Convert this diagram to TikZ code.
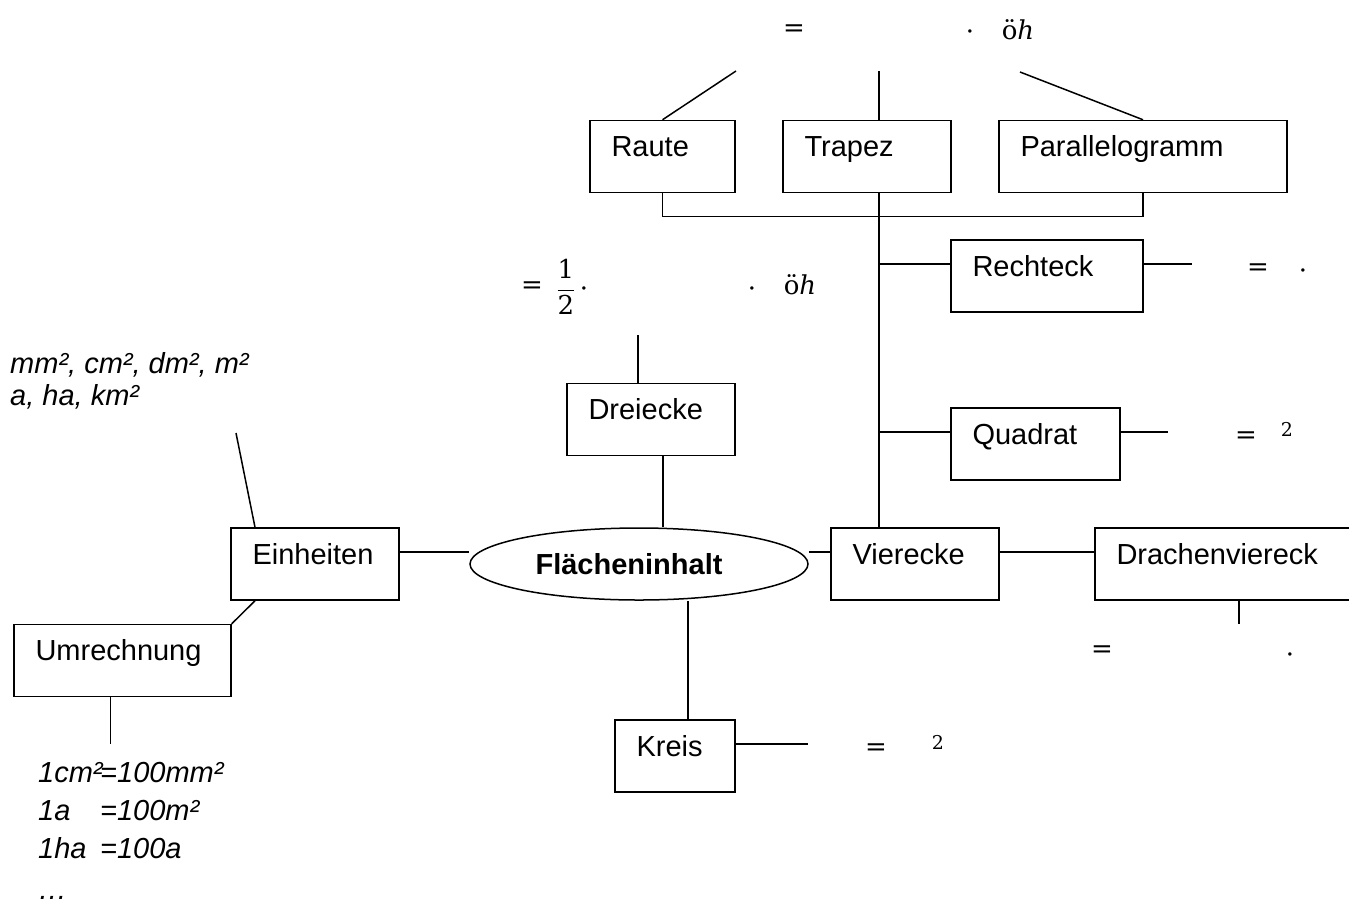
\RequirePackage{fix-cm}
\documentclass[tikz,border=0pt]{standalone}
\usepackage{fontspec}
\setmainfont{Liberation Sans}
\newfontfamily\mfont{DejaVu Serif}
\usetikzlibrary{shapes.geometric}
\newcommand\myfs{\fontsize{29}{34}\selectfont}
\newcommand\mfs{\mfont\fontsize{26}{30}\selectfont}
\newcommand\supfs{\mfont\fontsize{19}{22}\selectfont}
\begin{document}
\begin{tikzpicture}[x=1pt,y=-1pt,
  every node/.style={font=\myfs},
  box/.style={draw, line width=1.5pt, rectangle, inner xsep=21.5pt, inner ysep=0pt, minimum height=72pt, align=left, text height=20pt, text depth=20pt},
  ell/.style={draw, line width=1.5pt, ellipse, inner sep=0pt, minimum width=338pt, minimum height=72pt, font=\myfs\bfseries},
  conn/.style={line width=1.5pt},
  mth/.style={inner sep=0pt, font=\mfs},
  sup/.style={inner sep=0pt, font=\supfs},
  lbl/.style={inner sep=0pt, anchor=base west, font=\myfs\itshape}
]
\useasboundingbox (0,0) rectangle (1349,898);

% boxes
\node[box, text width=102pt] (raute) at (662.5,156.5) {Raute};
\node[box, text width=125pt] (trapez) at (867,156.5) {Trapez};
\node[box, text width=245pt] (pgram) at (1143,156.5) {Parallelogramm};
\node[box, text width=149pt] (rechteck) at (1047,276) {Rechteck};
\node[box, text width=126pt] (quadrat) at (1035.5,444) {Quadrat};
\node[box, text width=125pt] (dreiecke) at (651,419.5) {Dreiecke};
\node[box, text width=125pt] (vierecke) at (915,564) {Vierecke};
\node[box, text width=227pt] (drachen) at (1230,564) {Drachenviereck};
\node[box, text width=125pt] (einheiten) at (315,564) {Einheiten};
\node[box, text width=174pt] (umrechnung) at (122.5,660.5) {Umrechnung};
\node[box, text width=77pt] (kreis) at (675,756) {Kreis};
\node[ell] (fi) at (639,564) {\hspace*{-20pt}Flächeninhalt};

% free ends
\coordinate (trunk) at (879,0);
\coordinate (rt) at (736,71);
\coordinate (tt) at (879,71);
\coordinate (pt) at (1020,72);
\coordinate (et) at (236,433);

% connectors
\draw[conn] (raute.north) -- (rt);
\draw[conn] (trapez.north -| trunk) -- (tt);
\draw[conn] (pgram.north) -- (pt);
\draw[conn] (raute.south) -- ++(0,23) -| (pgram.south);
\draw[conn] (trapez.south -| trunk) -- (vierecke.north -| trunk);

\coordinate (rw) at ([yshift=12pt]rechteck.west);
\coordinate (re) at ([yshift=12pt]rechteck.east);
\draw[conn] (rw -| trunk) -- (rw);
\draw[conn] (re) -- ++(48,0);

\coordinate (qw) at ([yshift=12pt]quadrat.west);
\coordinate (qe) at ([yshift=12pt]quadrat.east);
\draw[conn] (qw -| trunk) -- (qw);
\draw[conn] (qe) -- ++(47,0);

\coordinate (vw) at ([yshift=12pt]vierecke.west);
\coordinate (dw) at ([yshift=12pt]drachen.west);
\draw[conn] (vw -| fi.east) -- (vw);
\draw[conn] (dw -| vierecke.east) -- (dw);
\draw[conn] ([xshift=9pt]drachen.south) -- ++(0,23);

\draw[conn] ([xshift=-13pt]dreiecke.north) -- ++(0,-48);
\coordinate (db) at ([xshift=12pt]dreiecke.south);
\draw[conn] (db) -- (db |- fi.north);

\coordinate (kn) at ([xshift=13pt]kreis.north);
\draw[conn] (kn) -- (kn |- fi.south);
\draw[conn] ([yshift=12pt]kreis.east) -- ++(72,0);

\coordinate (ee) at ([yshift=12pt]einheiten.east);
\draw[conn] (ee) -- (ee -| fi.west);
\draw[conn] ([xshift=-60pt]einheiten.north) -- (et);
\draw[conn] ([xshift=-60pt]einheiten.south) -- (umrechnung.north east);
\draw[conn] ([xshift=-12pt]umrechnung.south) -- ++(0,47);

% formula fragments
\node[mth] (f1eq) at (794,31) {=};
\node[mth] (f1dot) at (970,35) {·};
\node[mth] (f1oh) at (1018,30) {ö\textit{h}};

\node[mth] (f2eq) at (532,288) {=};
\node[mth] (f2fr) at (566,287) {$\displaystyle\frac{\hbox{\mfs 1}}{\hbox{\mfs 2}}$};
\node[mth] (f2dot) at (584,292) {·};
\node[mth] (f2dotb) at (752,292) {·};
\node[mth] (f2oh) at (800,285) {ö\textit{h}};

\node[mth] (f3eq) at (1258,270) {=};
\node[mth] (f3dot) at (1303,274) {·};

\node[mth] (f4eq) at (1246,438) {=};
\node[sup] (f4sq) at (1287,429) {2};

\node[mth] (f5eq) at (1102,652) {=};
\node[mth] (f5dot) at (1290,658) {·};

\node[mth] (f6eq) at (876,750) {=};
\node[sup] (f6sq) at (938,742) {2};

% italic texts
\node[lbl] (u1) at (10,373) {mm², cm², dm², m²};
\node[lbl] (u2) at (10,405) {a, ha, km²};
\node[lbl] (c1) at (38,782) {\makebox[62pt][l]{1cm²}=100mm²};
\node[lbl] (c2) at (38,820) {\makebox[62pt][l]{1a}=100m²};
\node[lbl] (c3) at (38,858) {\makebox[62pt][l]{1ha}=100a};
\node[lbl] (c4) at (38,899) {…};
\end{tikzpicture}
\end{document}
